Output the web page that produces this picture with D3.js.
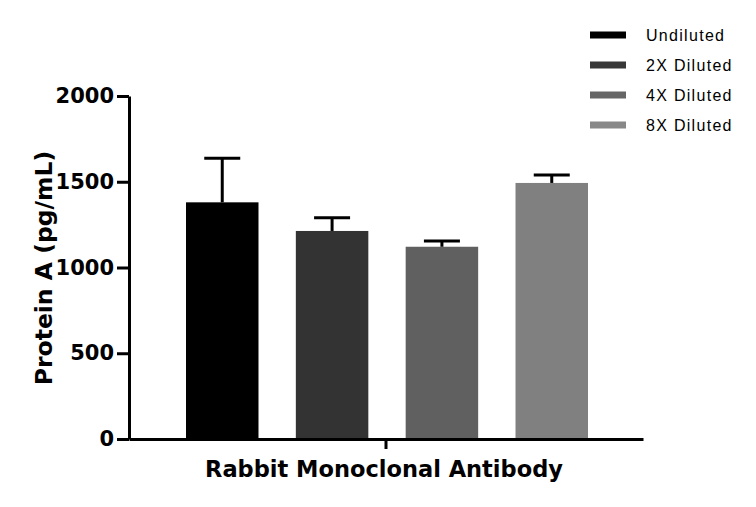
<!DOCTYPE html>
<html lang="en">
<head>
  <meta charset="UTF-8">
  <title>Protein A bar chart</title>
  <script src="https://d3js.org/d3.v7.min.js"></script>
  <style>
    body {
      margin: 0;
      background: #fff;
    }
    .axis text {
      font-family: "DejaVu Sans", sans-serif;
      font-weight: bold;
      font-size: 21px;
      fill: #000;
    }
    .axis path, .axis line {
      stroke: #000;
      stroke-width: 3px;
    }
    .title {
      font-family: "DejaVu Sans", sans-serif;
      font-weight: bold;
      font-size: 22.5px;
    }
    .legend text {
      font-family: "Liberation Sans", Arial, sans-serif;
      font-size: 16px;
      letter-spacing: 1.3px;
    }
  </style>
</head>
<body>
  <div id="chart"></div>
  <script>
    const categories = ["Rabbit Monoclonal Antibody"];
    const series = ["Undiluted", "2X Diluted", "4X Diluted", "8X Diluted"];
    const means = [1380, 1213, 1121, 1493];
    const errors = [257, 77, 34, 47];
    const colors = ["#000000", "#333333", "#606060", "#808080"];
    const legendColors = ["#000000", "#383838", "#666666", "#888888"];
    const yTicks = [0, 500, 1000, 1500, 2000];

    const width = 756;
    const height = 507;

    const svg = d3.select("#chart")
      .append("svg")
      .attr("width", width)
      .attr("height", height)
      .style("display", "block");

    const y = d3.scaleLinear()
      .domain([0, 2000])
      .range([439, 96]);

    // one group on the x axis, four bars inside it
    const x0 = d3.scaleBand()
      .domain(categories)
      .range([129, 643]);

    const x1 = d3.scaleBand()
      .domain(series)
      .range([186, 588])
      .paddingInner(0.34)
      .paddingOuter(0);

    svg.selectAll(".bar")
      .data(series)
      .enter()
      .append("rect")
      .attr("class", "bar")
      .attr("x", d => x1(d))
      .attr("width", x1.bandwidth())
      .attr("y", (d, i) => y(means[i]))
      .attr("height", (d, i) => y(0) - y(means[i]))
      .attr("fill", (d, i) => colors[i]);

    // error bars (upper only)
    const capWidth = 36;
    const err = svg.selectAll(".err")
      .data(series)
      .enter()
      .append("g")
      .attr("class", "err")
      .attr("stroke", "#000")
      .attr("stroke-width", 3);

    err.append("line")
      .attr("x1", d => x1(d) + x1.bandwidth() / 2)
      .attr("x2", d => x1(d) + x1.bandwidth() / 2)
      .attr("y1", (d, i) => y(means[i]))
      .attr("y2", (d, i) => y(means[i] + errors[i]));

    err.append("line")
      .attr("x1", d => x1(d) + x1.bandwidth() / 2 - capWidth / 2)
      .attr("x2", d => x1(d) + x1.bandwidth() / 2 + capWidth / 2)
      .attr("y1", (d, i) => y(means[i] + errors[i]))
      .attr("y2", (d, i) => y(means[i] + errors[i]));

    svg.append("g")
      .attr("class", "axis")
      .attr("transform", "translate(129,0)")
      .call(d3.axisLeft(y)
        .tickValues(yTicks)
        .tickFormat(d3.format("d"))
        .tickSize(12)
        .tickSizeOuter(0)
        .tickPadding(3));

    svg.append("g")
      .attr("class", "axis")
      .attr("transform", "translate(0,439)")
      .call(d3.axisBottom(x0).tickSize(10).tickSizeOuter(0).tickFormat(""));

    svg.append("text")
      .attr("class", "title")
      .attr("x", 384)
      .attr("y", 477)
      .attr("text-anchor", "middle")
      .text(categories[0]);

    svg.append("text")
      .attr("class", "title")
      .attr("transform", "translate(52,268) rotate(-90)")
      .attr("text-anchor", "middle")
      .style("font-size", "23.5px")
      .text("Protein A (pg/mL)");

    const legend = svg.append("g")
      .attr("class", "legend")
      .selectAll("g")
      .data(series)
      .enter()
      .append("g")
      .attr("transform", (d, i) => `translate(590, ${35 + i * 30})`);

    legend.append("rect")
      .attr("x", 0)
      .attr("y", -3.5)
      .attr("width", 36)
      .attr("height", 7)
      .attr("fill", (d, i) => legendColors[i]);

    legend.append("text")
      .attr("x", 56)
      .attr("y", 6)
      .text(d => d);
  </script>
</body>
</html>
